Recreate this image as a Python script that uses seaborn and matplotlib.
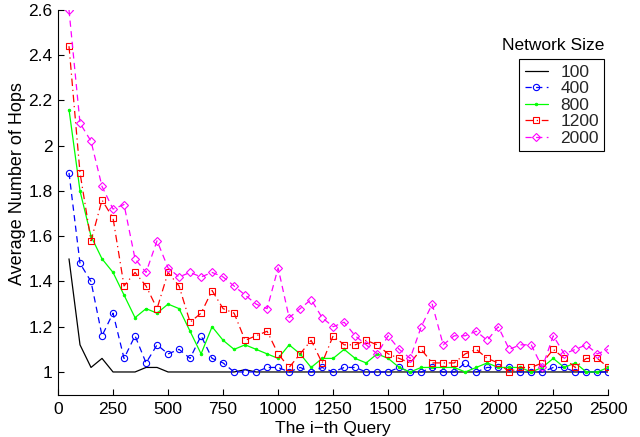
import matplotlib
matplotlib.use("Agg")
import matplotlib.pyplot as plt
import seaborn as sns
import pandas as pd

# i-th query index (every 50th query)
queries = list(range(50, 2501, 50))

hops_100 = [1.50, 1.12, 1.02, 1.06, 1.00, 1.00, 1.00, 1.02, 1.02, 1.00,
            1.00, 1.00, 1.00, 1.00, 1.00, 1.00, 1.01, 1.00, 1.00, 1.00,
            1.00, 1.00, 1.00, 1.00, 1.00, 1.00, 1.00, 1.00, 1.00, 1.00,
            1.00, 1.00, 1.00, 1.00, 1.00, 1.00, 1.00, 1.00, 1.00, 1.00,
            1.00, 1.00, 1.00, 1.00, 1.00, 1.00, 1.00, 1.00, 1.00, 1.00]

hops_400 = [1.88, 1.48, 1.40, 1.16, 1.26, 1.06, 1.16, 1.04, 1.12, 1.08,
            1.10, 1.06, 1.16, 1.06, 1.04, 1.00, 1.00, 1.00, 1.02, 1.02,
            1.00, 1.02, 1.00, 1.02, 1.00, 1.02, 1.02, 1.00, 1.00, 1.00,
            1.02, 1.00, 1.00, 1.02, 1.00, 1.00, 1.04, 1.00, 1.02, 1.02,
            1.02, 1.00, 1.00, 1.00, 1.02, 1.02, 1.00, 1.00, 1.00, 1.00]

hops_800 = [2.16, 1.80, 1.60, 1.50, 1.44, 1.34, 1.24, 1.28, 1.26, 1.30,
            1.28, 1.18, 1.08, 1.20, 1.14, 1.10, 1.12, 1.10, 1.08, 1.06,
            1.12, 1.08, 1.02, 1.06, 1.06, 1.10, 1.06, 1.04, 1.08, 1.06,
            1.02, 1.00, 1.02, 1.02, 1.02, 1.02, 1.00, 1.02, 1.04, 1.02,
            1.02, 1.02, 1.00, 1.02, 1.06, 1.02, 1.04, 1.00, 1.00, 1.02]

hops_1200 = [2.44, 1.88, 1.58, 1.76, 1.68, 1.38, 1.44, 1.38, 1.28, 1.44,
             1.38, 1.22, 1.26, 1.36, 1.28, 1.26, 1.14, 1.16, 1.18, 1.08,
             1.02, 1.08, 1.14, 1.04, 1.16, 1.12, 1.12, 1.14, 1.12, 1.08,
             1.06, 1.04, 1.10, 1.04, 1.04, 1.04, 1.08, 1.10, 1.06, 1.04,
             1.00, 1.02, 1.02, 1.04, 1.10, 1.06, 1.02, 1.06, 1.06, 1.02]

hops_2000 = [2.60, 2.10, 2.02, 1.82, 1.72, 1.74, 1.50, 1.44, 1.58, 1.46,
             1.42, 1.44, 1.42, 1.44, 1.42, 1.38, 1.34, 1.30, 1.28, 1.46,
             1.24, 1.28, 1.32, 1.24, 1.20, 1.22, 1.16, 1.12, 1.08, 1.16,
             1.10, 1.06, 1.20, 1.30, 1.12, 1.16, 1.16, 1.18, 1.14, 1.20,
             1.10, 1.12, 1.12, 1.02, 1.16, 1.08, 1.10, 1.12, 1.08, 1.10]

network_sizes = ["100", "400", "800", "1200", "2000"]
x_ticks = [0, 250, 500, 750, 1000, 1250, 1500, 1750, 2000, 2250, 2500]
y_ticks = [1.0, 1.2, 1.4, 1.6, 1.8, 2.0, 2.2, 2.4, 2.6]
y_tick_labels = ["1", "1.2", "1.4", "1.6", "1.8", "2", "2.2", "2.4", "2.6"]

df = pd.DataFrame({"query": queries, "100": hops_100, "400": hops_400,
                   "800": hops_800, "1200": hops_1200, "2000": hops_2000})

sns.set_style("ticks")
plt.rcParams["font.family"] = ["Liberation Sans", "DejaVu Sans"]
plt.rcParams["axes.unicode_minus"] = True

styles = {
    "100":  dict(color="black", linestyle="-", marker=None),
    "400":  dict(color="blue", linestyle=(0, (5, 3.5)), marker="o", ms=4.5,
                 markerfacecolor="none", markeredgecolor="blue", mew=0.8),
    "800":  dict(color="#00ff00", linestyle="-", marker=".", ms=4,
                 markerfacecolor="#00ff00", markeredgecolor="#00ff00", mew=0.5),
    "1200": dict(color="red", linestyle=(0, (6, 3, 1, 3)), marker="s", ms=4.5,
                 markerfacecolor="none", markeredgecolor="red", mew=0.8),
    "2000": dict(color="magenta", linestyle=(0, (5, 3.5)), marker="D", ms=4.5,
                 markerfacecolor="none", markeredgecolor="magenta", mew=0.8),
}

fig = plt.figure(figsize=(6.4, 4.37), dpi=100)
ax = fig.add_axes([58 / 640, 1 - 394.6 / 437, 550.3 / 640, 384.6 / 437])

for size in network_sizes:
    sns.lineplot(data=df, x="query", y=size, ax=ax, lw=0.9, label=size,
                 **styles[size])

ax.set_xlim(0, 2500)
ax.set_ylim(0.9, 2.6)
ax.set_xticks(x_ticks)
ax.set_xticklabels([str(t) for t in x_ticks])
ax.set_yticks(y_ticks)
ax.set_yticklabels(y_tick_labels)

for side in ["top", "right"]:
    ax.spines[side].set_visible(False)
for side in ["left", "bottom"]:
    ax.spines[side].set_color("black")
    ax.spines[side].set_linewidth(0.8)

ax.tick_params(axis="both", direction="in", length=4, width=0.8,
               color="black", labelsize=12.5, labelcolor="black")
ax.tick_params(axis="x", pad=5)
ax.tick_params(axis="y", pad=4)

ax.set_xlabel("The i\u2212th Query", fontsize=12.5, color="black", labelpad=3)
ax.set_ylabel("Average Number of Hops", fontsize=13, color="black")
ax.yaxis.set_label_coords(-0.058, 0.55)

handles, labels = ax.get_legend_handles_labels()
leg = ax.legend(handles, labels, loc="upper right",
                bbox_to_anchor=(604 / 640, 1 - 59.3 / 437),
                bbox_transform=fig.transFigure, borderaxespad=0,
                fontsize=12.5, frameon=True, fancybox=False, framealpha=1,
                edgecolor="black", handlelength=1.35, handletextpad=0.7,
                labelspacing=0.08, borderpad=0.3)
leg.get_frame().set_linewidth(0.8)

fig.text(553 / 640, 1 - 46 / 437, "Network Size", ha="center", va="center",
         fontsize=12.5, color="black")

fig.savefig("out.png", dpi=100, facecolor="white")
